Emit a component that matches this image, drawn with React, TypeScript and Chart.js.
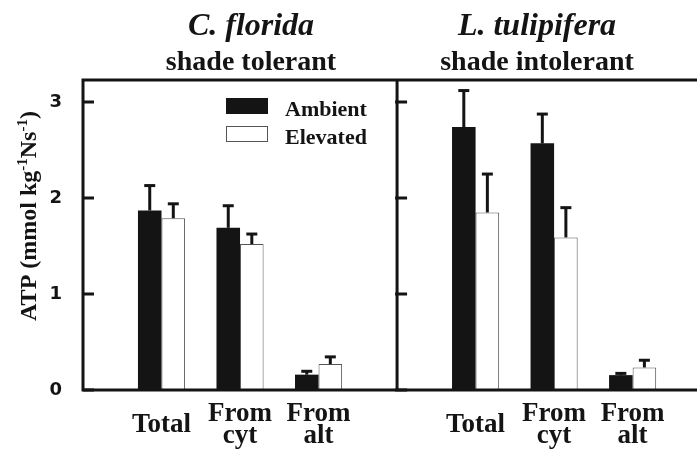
import React, { useEffect, useRef } from 'react';
import { Chart, registerables } from 'chart.js';

Chart.register(...registerables);

// ---- Data ----
const panelTitles = ['C. florida', 'L. tulipifera'];
const panelSubtitles = ['shade tolerant', 'shade intolerant'];
const categories = ['Total', 'From cyt', 'From alt'];
const seriesNames = ['Ambient', 'Elevated'];
const yTickValues = [0, 1, 2, 3];

// values in order [Total, From cyt, From alt]
const floridaAmbient = [1.87, 1.69, 0.16];
const floridaElevated = [1.79, 1.52, 0.27];
const floridaAmbientErr = [0.26, 0.23, 0.035];
const floridaElevatedErr = [0.15, 0.105, 0.075];

const tulipiferaAmbient = [2.74, 2.57, 0.155];
const tulipiferaElevated = [1.85, 1.59, 0.235];
const tulipiferaAmbientErr = [0.38, 0.305, 0.018];
const tulipiferaElevatedErr = [0.4, 0.31, 0.075];

// ---- Layout helpers (axis units) ----
const SLOTS_PER_PANEL = 4; // panel spans 4 category slots; categories at 1,2,3
const X_MAX = 7.82;
const Y_MAX = 3.23;

const slotX = (k: number) => Math.floor(k / 3) * SLOTS_PER_PANEL + (k % 3) + 1;
const tickPositions = [0, 1, 2, 3, 4, 5].map(slotX);
const labelFor = (v: number) => {
  const idx = ((Math.round(v) % SLOTS_PER_PANEL) + SLOTS_PER_PANEL - 1) % SLOTS_PER_PANEL;
  const name = categories[idx] || '';
  return name.includes(' ') ? name.split(' ') : name;
};

const ambientValues = [...floridaAmbient, ...tulipiferaAmbient];
const elevatedValues = [...floridaElevated, ...tulipiferaElevated];
const ambientErrors = [...floridaAmbientErr, ...tulipiferaAmbientErr];
const elevatedErrors = [...floridaElevatedErr, ...tulipiferaElevatedErr];

const INK = '#141414';
const SERIF = '"Liberation Serif", "Times New Roman", serif';
const SANS = '"DejaVu Sans", "Liberation Sans", Arial, sans-serif';

const decorPlugin = {
  id: 'decor',
  afterDatasetsDraw(chart: any) {
    const { ctx, scales } = chart;
    const ys = scales.y;
    ctx.save();
    // error bars (upper only)
    chart.data.datasets.forEach((ds: any, di: number) => {
      const meta = chart.getDatasetMeta(di);
      meta.data.forEach((el: any, i: number) => {
        const v = ds.data[i].y;
        const e = ds.errors[i];
        const yTop = ys.getPixelForValue(v + e);
        ctx.strokeStyle = INK;
        ctx.lineWidth = 3;
        ctx.beginPath();
        ctx.moveTo(el.x, el.y);
        ctx.lineTo(el.x, yTop);
        ctx.stroke();
        ctx.beginPath();
        ctx.moveTo(el.x - 5.5, yTop);
        ctx.lineTo(el.x + 5.5, yTop);
        ctx.stroke();
      });
    });
    ctx.restore();
  },
  afterDraw(chart: any) {
    const { ctx, chartArea: ca, scales } = chart;
    const xs = scales.x;
    const ys = scales.y;
    ctx.save();
    ctx.strokeStyle = INK;
    ctx.lineWidth = 3;
    ctx.lineCap = 'butt';
    const divider = xs.getPixelForValue(SLOTS_PER_PANEL);

    // frame
    ctx.beginPath();
    ctx.moveTo(ca.left, ca.top - 1.5);
    ctx.lineTo(ca.left, ca.bottom + 1.5);
    ctx.moveTo(ca.left - 1.5, ca.top);
    ctx.lineTo(ca.right, ca.top);
    ctx.moveTo(ca.left - 1.5, ca.bottom);
    ctx.lineTo(ca.right, ca.bottom);
    ctx.moveTo(divider, ca.top);
    ctx.lineTo(divider, ca.bottom);
    ctx.stroke();

    // inward ticks
    ctx.beginPath();
    yTickValues.forEach((v) => {
      const y = ys.getPixelForValue(v);
      ctx.moveTo(ca.left, y);
      ctx.lineTo(ca.left + 11, y);
      ctx.moveTo(divider - 2, y);
      ctx.lineTo(divider + 10, y);
    });
    ctx.stroke();

    // panel titles
    const titleX = [251, 537];
    ctx.fillStyle = INK;
    ctx.textAlign = 'center';
    ctx.textBaseline = 'alphabetic';
    panelTitles.forEach((t, p) => {
      ctx.font = `italic bold 32px ${SERIF}`;
      ctx.fillText(t, titleX[p], 35);
      ctx.font = `bold 28px ${SERIF}`;
      ctx.fillText(panelSubtitles[p], titleX[p], 70);
    });

    // legend
    const lx = ca.left + 143;
    const rows = [98, 126];
    chart.data.datasets.forEach((ds: any, i: number) => {
      const y = rows[i];
      ctx.fillStyle = ds.backgroundColor;
      ctx.fillRect(lx, y, 42, 16);
      if (ds.borderWidth) {
        ctx.lineWidth = 1;
        ctx.strokeStyle = ds.borderColor;
        ctx.strokeRect(lx + 0.5, y + 0.5, 41, 15);
      }
      ctx.fillStyle = INK;
      ctx.textAlign = 'left';
      ctx.font = `bold 22px ${SERIF}`;
      ctx.fillText(ds.label, lx + 59, y + 18);
    });

    // y-axis title with superscripts
    const parts = [
      { t: 'ATP (mmol kg', sup: false },
      { t: '-1', sup: true },
      { t: 'Ns', sup: false },
      { t: '-1', sup: true },
      { t: ')', sup: false },
    ];
    const mainFont = `bold 24px ${SERIF}`;
    const supFont = `bold 15px ${SERIF}`;
    let total = 0;
    parts.forEach((pt) => {
      ctx.font = pt.sup ? supFont : mainFont;
      total += ctx.measureText(pt.t).width;
    });
    ctx.translate(36, 216);
    ctx.rotate(-Math.PI / 2);
    let cx = -total / 2;
    ctx.textAlign = 'left';
    parts.forEach((pt) => {
      ctx.font = pt.sup ? supFont : mainFont;
      ctx.fillText(pt.t, cx, pt.sup ? -9 : 0);
      cx += ctx.measureText(pt.t).width;
    });
    ctx.restore();
  },
};

export default function App() {
  const ref = useRef<HTMLCanvasElement>(null);
  useEffect(() => {
    const chart = new Chart(ref.current as HTMLCanvasElement, {
      type: 'bar',
      data: {
        datasets: [
          {
            label: seriesNames[0],
            data: ambientValues.map((v, k) => ({ x: slotX(k), y: v })),
            errors: ambientErrors,
            backgroundColor: INK,
            borderWidth: 0,
          } as any,
          {
            label: seriesNames[1],
            data: elevatedValues.map((v, k) => ({ x: slotX(k), y: v })),
            errors: elevatedErrors,
            backgroundColor: '#ffffff',
            borderColor: '#555555',
            borderWidth: 1,
          } as any,
        ],
      },
      options: {
        responsive: false,
        animation: false,
        events: [],
        layout: { padding: { top: 80, left: 0, right: 0, bottom: 0 } },
        datasets: { bar: { categoryPercentage: 0.6, barPercentage: 1.0 } },
        plugins: { legend: { display: false }, title: { display: false }, tooltip: { enabled: false } },
        scales: {
          x: {
            type: 'linear',
            offset: false,
            min: 0,
            max: X_MAX,
            grid: { display: false, offset: false },
            border: { display: false },
            afterBuildTicks: (s: any) => {
              s.ticks = tickPositions.map((v) => ({ value: v }));
            },
            afterFit: (s: any) => {
              s.height = 61;
            },
            ticks: {
              autoSkip: false,
              maxRotation: 0,
              minRotation: 0,
              crossAlign: 'center',
              padding: 16,
              color: INK,
              font: { family: SERIF, weight: 'bold', size: 27, lineHeight: 0.8 },
              callback: (v: any) => labelFor(Number(v)),
            },
          },
          y: {
            min: 0,
            max: Y_MAX,
            grid: { display: false },
            border: { display: false },
            afterBuildTicks: (s: any) => {
              s.ticks = yTickValues.map((v) => ({ value: v }));
            },
            afterFit: (s: any) => {
              s.width = 83;
            },
            ticks: {
              padding: 13,
              color: INK,
              font: { family: SANS, weight: 'bold', size: 18 },
              callback: (v: any) => String(v),
            },
          },
        },
      } as any,
      plugins: [decorPlugin],
    });
    return () => chart.destroy();
  }, []);
  return (
    <div style={{ position: 'fixed', left: 0, top: 0, width: 697, height: 451, background: '#fff' }}>
      <canvas ref={ref} width={697} height={451} style={{ display: 'block' }} />
    </div>
  );
}
